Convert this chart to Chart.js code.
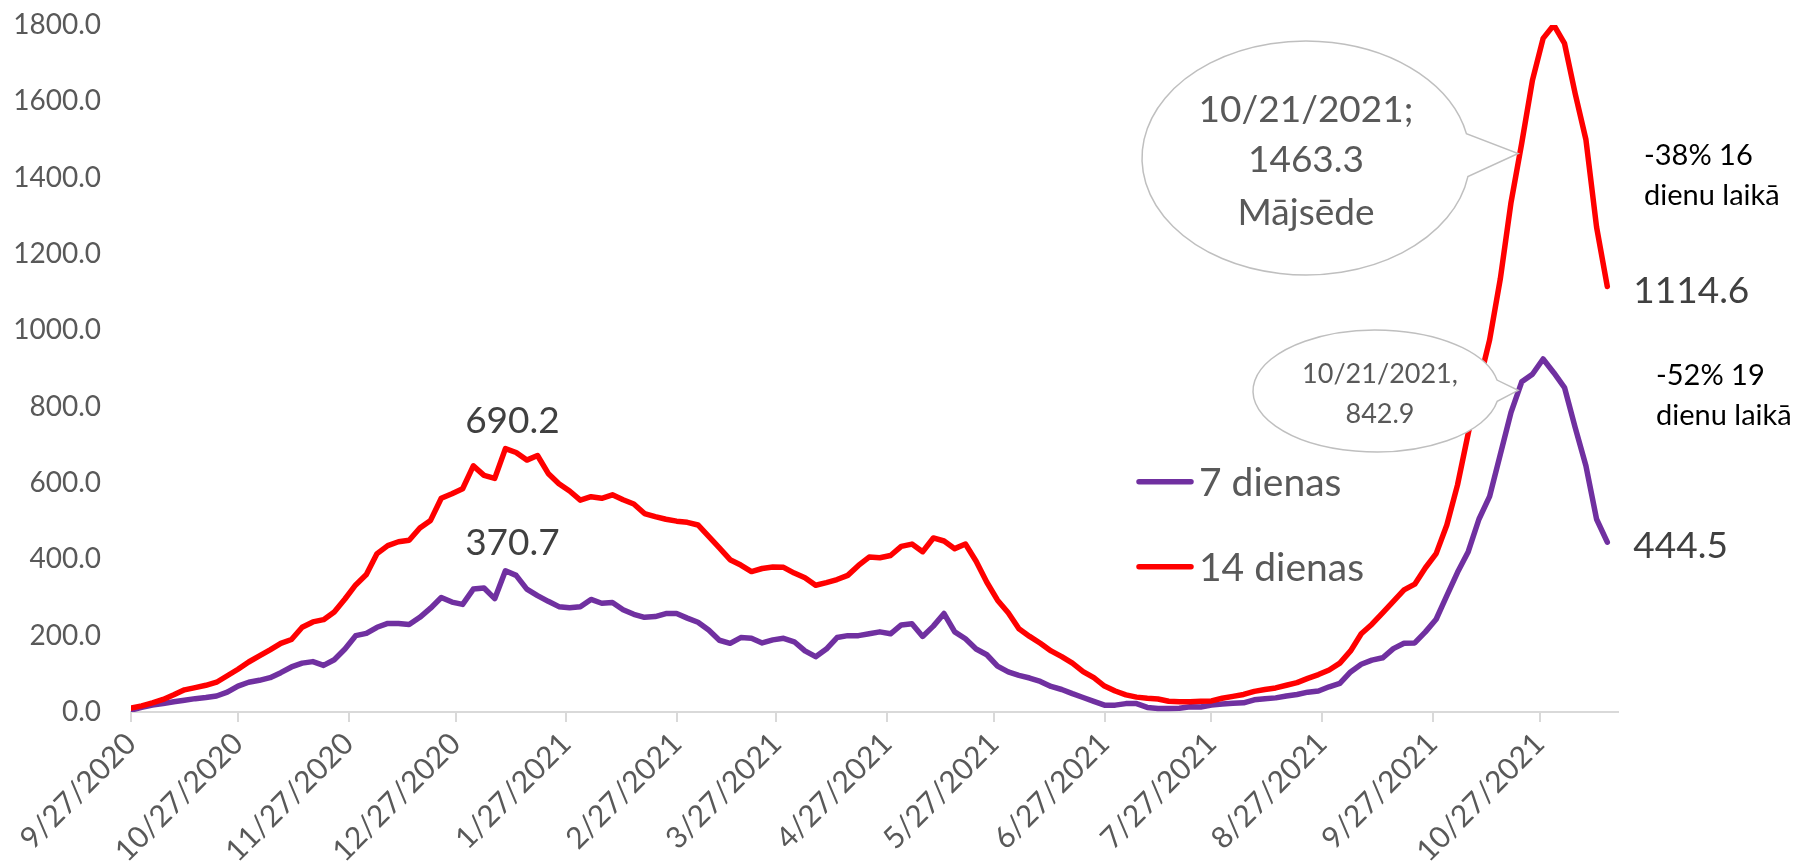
<!DOCTYPE html>
<html>
<head>
<meta charset="utf-8">
<title>7 un 14 dienu saslimstība</title>
<script src="https://cdn.jsdelivr.net/npm/chart.js@4.4.1/dist/chart.umd.min.js"></script>
<style>
  html, body { margin: 0; padding: 0; background: #fff; }
  #wrap { width: 1808px; height: 863px; }
</style>
</head>
<body>
<div id="wrap"><canvas id="incidenceChart"></canvas></div>
<script>
// Days are counted from 9/27/2020, one sample every 3 days
const startDay = 0;
const stepDays = 3;

const tickDays = [0, 30, 61, 91, 122, 153, 181, 212, 242, 273, 303, 334, 365, 395];
const tickLabels = [
  '9/27/2020', '10/27/2020', '11/27/2020', '12/27/2020', '1/27/2021', '2/27/2021',
  '3/27/2021', '4/27/2021', '5/27/2021', '6/27/2021', '7/27/2021', '8/27/2021',
  '9/27/2021', '10/27/2021'
];

const seriesNames = ['7 dienas', '14 dienas'];

// 7 dienas
const values7 = [
  5, 12, 18, 22, 27, 31, 35, 38, 42, 52,
  68, 78, 83, 90, 103, 118, 128, 132, 122, 137,
  165, 200, 206, 222, 232, 232, 229, 248, 272, 300,
  288, 282, 322, 325, 297, 370, 358, 322, 305, 290,
  276, 273, 276, 295, 285, 287, 268, 256, 248, 250,
  258, 258, 246, 235, 215, 188, 180, 195, 193, 181,
  189, 193, 184, 160, 145, 165, 195, 200, 200, 205,
  210, 205, 228, 231, 198, 225, 258, 210, 192, 165,
  150, 120, 105, 96, 89, 80, 67, 59, 48, 38,
  28, 18, 18, 22, 22, 12, 9, 9, 10, 14,
  13, 18, 21, 23, 24, 32, 35, 37, 42, 46,
  52, 55, 66, 75, 105, 125, 136, 142, 166, 180,
  181, 210, 243, 305, 366, 420, 505, 565, 675, 785,
  865, 885, 925, 889, 850, 745, 645, 505, 445
];

// 14 dienas
const values14 = [
  10, 16, 24, 33, 45, 58, 64, 70, 78, 95,
  112, 131, 147, 163, 180, 190, 222, 236, 242, 262,
  296, 333, 360, 415, 436, 446, 450, 482, 502, 560,
  572, 585, 645, 620, 612, 690, 680, 660, 672, 625,
  598, 579, 555, 564, 560, 569, 556, 545, 520, 512,
  505, 500, 497, 490, 460, 430, 399, 385, 368, 376,
  380, 379, 364, 352, 332, 339, 347, 358, 384, 406,
  404, 410, 434, 440, 420, 456, 448, 428, 440, 395,
  340, 293, 260, 218, 198, 180, 160, 145, 128, 106,
  90, 68, 55, 45, 39, 36, 34, 28, 27, 27,
  28, 29, 36, 41, 46, 54, 59, 63, 70, 77,
  88, 98, 110, 128, 160, 205, 230, 260, 290, 320,
  335, 378, 415, 490, 595, 730, 860, 975, 1135, 1335,
  1490, 1655, 1765, 1800, 1752, 1620, 1500, 1270, 1115
];

// labelled points
const peakDay = 105;
const peakValues = [370.7, 690.2];
const calloutDay = 389;
const calloutValues = [842.9, 1463.3];
const calloutTexts = [['10/21/2021,', '842.9'], ['10/21/2021;', '1463.3', 'Mājsēde']];
const lastValues = [444.5, 1114.6];
const dropNotes = [['-52% 19', 'dienu laikā'], ['-38% 16', 'dienu laikā']];

const seriesColors = ['#7030a0', '#ff0000'];

function toPoints(values) {
  return values.map((v, i) => ({ x: startDay + i * stepDays, y: v }));
}

function drawCallout(ctx, cx, cy, rx, ry, tA, tB, tip) {
  ctx.beginPath();
  ctx.ellipse(cx, cy, rx, ry, 0, tB, tA + Math.PI * 2, false);
  ctx.lineTo(tip.x, tip.y);
  ctx.closePath();
  ctx.fillStyle = '#ffffff';
  ctx.fill();
  ctx.strokeStyle = '#bfbfbf';
  ctx.lineWidth = 1.5;
  ctx.stroke();
}

// Annotations, callouts and legend
const notesPlugin = {
  id: 'notes',
  afterDatasetsDraw(chart) {
    const ctx = chart.ctx;
    const xs = chart.scales.x;
    const ys = chart.scales.y;
    const lastDay = startDay + (values14.length - 1) * stepDays;
    ctx.save();

    // peak values
    ctx.fillStyle = '#404040';
    ctx.font = '37px Lato';
    ctx.textAlign = 'center';
    ctx.textBaseline = 'alphabetic';
    peakValues.forEach(v => {
      ctx.fillText(v.toFixed(1), xs.getPixelForValue(peakDay) + 7, ys.getPixelForValue(v) - 16);
    });

    // last values
    ctx.textAlign = 'left';
    lastValues.forEach(v => {
      ctx.fillText(v.toFixed(1), xs.getPixelForValue(lastDay) + 26, ys.getPixelForValue(v) + 16);
    });

    // change notes
    ctx.fillStyle = '#000000';
    ctx.font = '29px Lato';
    ctx.fillText(dropNotes[1][0], 1644, 165);
    ctx.fillText(dropNotes[1][1], 1644, 205);
    ctx.fillText(dropNotes[0][0], 1656, 385);
    ctx.fillText(dropNotes[0][1], 1656, 425);

    // callouts
    const tipX = xs.getPixelForValue(calloutDay);
    drawCallout(ctx, 1306, 158, 164, 117, -0.21, 0.16, { x: tipX, y: ys.getPixelForValue(calloutValues[1]) });
    drawCallout(ctx, 1376, 391, 123, 61, -0.18, 0.17, { x: tipX, y: ys.getPixelForValue(calloutValues[0]) });

    ctx.fillStyle = '#595959';
    ctx.textAlign = 'center';
    ctx.font = '37px Lato';
    [-36.5, 13.5, 67].forEach((dy, i) => ctx.fillText(calloutTexts[1][i], 1306, 158 + dy));
    ctx.font = '27px Lato';
    [-7.7, 31.7].forEach((dy, i) => ctx.fillText(calloutTexts[0][i], 1380, 391 + dy));

    // legend
    ctx.textAlign = 'left';
    ctx.font = '39px Lato';
    ctx.lineCap = 'round';
    ctx.lineWidth = 5.5;
    [481.7, 566.7].forEach((ly, i) => {
      ctx.strokeStyle = seriesColors[i];
      ctx.beginPath();
      ctx.moveTo(1139, ly);
      ctx.lineTo(1191, ly);
      ctx.stroke();
      ctx.fillText(seriesNames[i], 1199, ly + 14);
    });

    ctx.restore();
  }
};

const chart = new Chart(document.getElementById('incidenceChart'), {
  type: 'line',
  data: {
    datasets: [
      {
        label: seriesNames[0],
        data: toPoints(values7),
        borderColor: seriesColors[0],
        borderWidth: 5.5,
        order: 1
      },
      {
        label: seriesNames[1],
        data: toPoints(values14),
        borderColor: seriesColors[1],
        borderWidth: 5.5,
        order: 0
      }
    ]
  },
  options: {
    responsive: true,
    maintainAspectRatio: false,
    animation: false,
    layout: { padding: { top: 25, right: 190, left: 0, bottom: 0 } },
    elements: {
      point: { radius: 0 },
      line: { tension: 0, borderJoinStyle: 'round', borderCapStyle: 'round', fill: false }
    },
    plugins: {
      legend: { display: false },
      tooltip: { enabled: false }
    },
    scales: {
      x: {
        type: 'linear',
        min: 0,
        max: 417,
        afterBuildTicks: (axis) => { axis.ticks = tickDays.map(d => ({ value: d })); },
        afterFit: (axis) => { axis.height = 151; },
        ticks: {
          autoSkip: false,
          maxRotation: 45,
          minRotation: 45,
          padding: 4,
          color: '#595959',
          font: { family: 'Lato', size: 30 },
          callback: (value) => {
            const i = tickDays.indexOf(value);
            return i >= 0 ? tickLabels[i] : '';
          }
        },
        grid: {
          drawOnChartArea: false,
          drawTicks: true,
          tickLength: 10,
          color: '#d9d9d9',
          lineWidth: 2
        },
        border: { display: true, color: '#d9d9d9', width: 2 }
      },
      y: {
        min: 0,
        max: 1800,
        // tick padding is only meant to push labels left, not to shrink the plot
        afterFit: (axis) => {
          axis.width = 131;
          axis.paddingTop = 17;
          axis.paddingBottom = 17;
        },
        ticks: {
          stepSize: 200,
          padding: 30,
          color: '#595959',
          font: { family: 'Lato', size: 28 },
          callback: (value) => value.toFixed(1)
        },
        grid: { display: false, drawTicks: false },
        border: { display: false }
      }
    }
  },
  plugins: [notesPlugin]
});
</script>
</body>
</html>
